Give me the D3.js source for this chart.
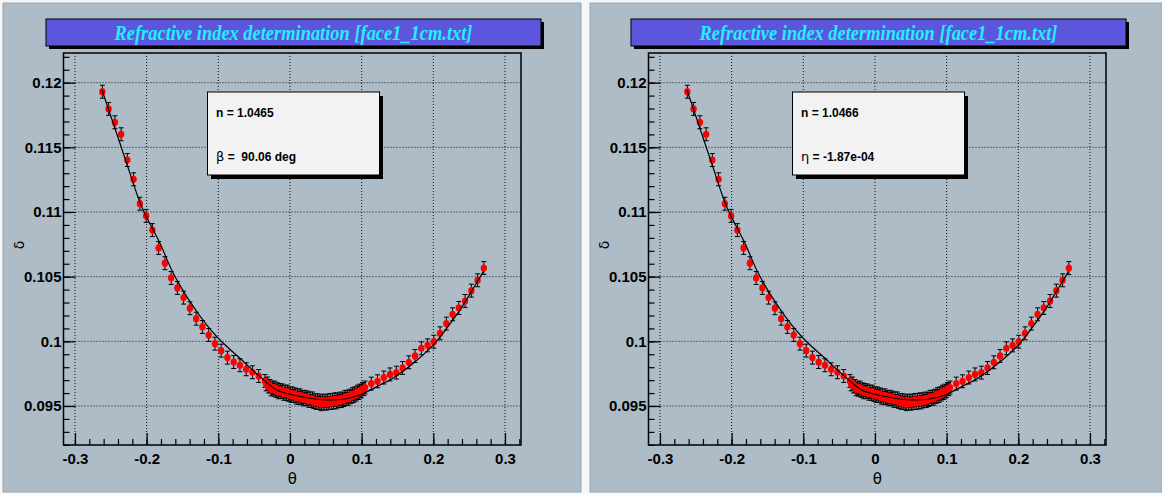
<!DOCTYPE html>
<html><head><meta charset="utf-8">
<script src="https://cdn.jsdelivr.net/npm/d3@7"></script>
<style>body{margin:0;background:#f5f7f9;overflow:hidden}</style>
</head><body><svg id="c" width="1162" height="494"></svg>
<script>
// ---------------- data ----------------
const titleText = "Refractive index determination [face1_1cm.txt]";
const xTitle = "θ", yTitle = "δ";
const xTicks = [-0.3, -0.2, -0.1, 0, 0.1, 0.2, 0.3];
const xTickLabels = ["-0.3", "-0.2", "-0.1", "0", "0.1", "0.2", "0.3"];
const yTicks = [0.095, 0.1, 0.105, 0.11, 0.115, 0.12];
const yTickLabels = ["0.095", "0.1", "0.105", "0.11", "0.115", "0.12"];

// measured points (theta in rad, delta)
const thetaLeft = [-0.2618,-0.2531,-0.2443,-0.2356,-0.2269,-0.2182,-0.2094,-0.2007,-0.1920,-0.1833,-0.1745,-0.1658,-0.1571,-0.1484,-0.1396,-0.1309,-0.1222,-0.1134,-0.1047,-0.0960,-0.0873,-0.0785,-0.0698,-0.0611,-0.0524,-0.0436];
const deltaLeft = [0.11930,0.11797,0.11694,0.11601,0.11402,0.11253,0.11064,0.10970,0.10860,0.10722,0.10604,0.10490,0.10413,0.10338,0.10256,0.10175,0.10111,0.10049,0.09982,0.09928,0.09874,0.09840,0.09815,0.09784,0.09761,0.09732];
const thetaDense = [-0.0349,-0.0332,-0.0314,-0.0297,-0.0279,-0.0262,-0.0244,-0.0227,-0.0209,-0.0192,-0.0175,-0.0157,-0.0140,-0.0122,-0.0105,-0.0087,-0.0070,-0.0052,-0.0035,-0.0017,0.0000,0.0017,0.0035,0.0052,0.0070,0.0087,0.0105,0.0122,0.0140,0.0157,0.0175,0.0192,0.0209,0.0227,0.0244,0.0262,0.0279,0.0297,0.0314,0.0332,0.0349,0.0367,0.0384,0.0401,0.0419,0.0436,0.0454,0.0471,0.0489,0.0506,0.0524,0.0541,0.0559,0.0576,0.0593,0.0611,0.0628,0.0646,0.0663,0.0681,0.0698,0.0716,0.0733,0.0750,0.0768,0.0785,0.0803,0.0820,0.0838,0.0855,0.0873,0.0890,0.0908,0.0925,0.0942,0.0960,0.0977,0.0995,0.1012,0.1030,0.1047];
const deltaDense = [0.09693,0.09667,0.09674,0.09650,0.09655,0.09629,0.09642,0.09626,0.09642,0.09617,0.09629,0.09606,0.09624,0.09609,0.09620,0.09595,0.09611,0.09594,0.09611,0.09586,0.09597,0.09578,0.09597,0.09578,0.09590,0.09565,0.09582,0.09563,0.09582,0.09560,0.09570,0.09551,0.09571,0.09553,0.09565,0.09540,0.09558,0.09539,0.09558,0.09531,0.09544,0.09524,0.09545,0.09524,0.09535,0.09514,0.09542,0.09521,0.09537,0.09518,0.09542,0.09525,0.09547,0.09523,0.09545,0.09528,0.09552,0.09528,0.09550,0.09537,0.09557,0.09538,0.09557,0.09546,0.09571,0.09555,0.09572,0.09557,0.09580,0.09571,0.09592,0.09577,0.09598,0.09588,0.09611,0.09600,0.09619,0.09614,0.09631,0.09630,0.09643];
const thetaRight = [0.1134,0.1222,0.1309,0.1396,0.1484,0.1571,0.1658,0.1745,0.1833,0.1920,0.2007,0.2094,0.2182,0.2269,0.2356,0.2443,0.2531,0.2618,0.2705];
const deltaRight = [0.09673,0.09691,0.09720,0.09744,0.09758,0.09794,0.09838,0.09887,0.09946,0.09969,0.09997,0.10062,0.10137,0.10209,0.10258,0.10312,0.10392,0.10472,0.10567];
const deltaError = 0.0005;

// fitted curve
const fitTheta = [-0.2623,-0.2466,-0.2279,-0.2069,-0.1814,-0.1628,-0.1395,-0.1163,-0.0977,-0.0698,-0.0419,-0.0186,0.0046,0.0279,0.0512,0.0744,0.0977,0.1256,0.1395,0.1720,0.2000,0.2186,0.2372,0.2558,0.2698];
const fitDelta = [0.11943,0.11686,0.11377,0.11041,0.10758,0.10526,0.10307,0.10127,0.10010,0.09869,0.09727,0.09624,0.09585,0.09560,0.09547,0.09552,0.09585,0.09663,0.09701,0.09830,0.09972,0.10101,0.10243,0.10410,0.10539];

const statsLeft = ["n = 1.0465", "β", " =  90.06 deg"];
const statsRight = ["n = 1.0466", "η", " = -1.87e-04"];

// ---------------- drawing ----------------
const svg = d3.select("#c");
const allTheta = thetaLeft.concat(thetaDense, thetaRight);
const allDelta = deltaLeft.concat(deltaDense, deltaRight);
const pts = allTheta.map((t, i) => ({t, d: allDelta[i]}));
const fit = fitTheta.map((t, i) => ({t, d: fitDelta[i]}));

const F = {l: 63.5, r: 521, t: 53, b: 445};
const x = d3.scaleLinear().domain([-0.3160, -0.3160 + (F.r - F.l) / 716.7]).range([F.l, F.r]);
const y = d3.scaleLinear().domain([0.091984, 0.091984 + (F.b - F.t) / 12933]).range([F.b, F.t]);
const labelFont = "'Liberation Sans', Arial, sans-serif";

const panels = [
  {ox: 0, padX: 3, padW: 578, stats: statsLeft},
  {ox: 585, padX: 590, padW: 572, stats: statsRight}
];

panels.forEach(p => {
  svg.append("rect").attr("x", p.padX).attr("y", 3).attr("width", p.padW).attr("height", 489)
    .attr("fill", "#adbcc6").attr("stroke", "#98a6b0").attr("stroke-width", 1);
  const g = svg.append("g").attr("transform", `translate(${p.ox},0)`);

  // grid
  const [x0, x1] = x.domain(), [y0, y1] = y.domain();
  g.append("g").selectAll("line").data(xTicks).join("line")
    .attr("x1", d => x(d)).attr("x2", d => x(d)).attr("y1", F.t).attr("y2", F.b)
    .attr("stroke", "#111").attr("stroke-width", 1).attr("stroke-dasharray", "1,2");
  g.append("g").selectAll("line").data(yTicks).join("line")
    .attr("y1", d => y(d)).attr("y2", d => y(d)).attr("x1", F.l).attr("x2", F.r)
    .attr("stroke", "#111").attr("stroke-width", 1).attr("stroke-dasharray", "1,2");

  // axes with D3 (ticks inside)
  const xMinor = d3.range(-0.30, 0.33, 0.02).filter(v => v >= x0 && v <= x1);
  const yMinor = d3.range(0.092, 0.1225, 0.001).filter(v => v >= y0 && v <= y1);
  const xAxisMinor = d3.axisBottom(x).tickValues(xMinor).tickSize(-6).tickFormat("");
  const xAxisMajor = d3.axisBottom(x).tickValues(xTicks).tickSize(-12).tickPadding(20)
    .tickFormat((d, i) => xTickLabels[i]);
  const yAxisMinor = d3.axisLeft(y).tickValues(yMinor).tickSize(-6).tickFormat("");
  const yAxisMajor = d3.axisLeft(y).tickValues(yTicks).tickSize(-12).tickPadding(14)
    .tickFormat((d, i) => yTickLabels[i]);

  [xAxisMinor, xAxisMajor].forEach(ax => {
    const a = g.append("g").attr("transform", `translate(0,${F.b})`).call(ax);
    a.select(".domain").remove();
    a.selectAll("line").attr("stroke", "#000").attr("stroke-width", 1.2);
    a.selectAll("text").attr("font-family", labelFont).attr("font-weight", "bold")
      .attr("font-size", 15).attr("fill", "#000").attr("dy", "0.71em").attr("y", 8);
  });
  [yAxisMinor, yAxisMajor].forEach(ax => {
    const a = g.append("g").attr("transform", `translate(${F.l},0)`).call(ax);
    a.select(".domain").remove();
    a.selectAll("line").attr("stroke", "#000").attr("stroke-width", 1.2);
    a.selectAll("text").attr("font-family", labelFont).attr("font-weight", "bold")
      .attr("font-size", 15).attr("fill", "#000").attr("x", -2);
  });

  // frame
  g.append("rect").attr("x", F.l).attr("y", F.t).attr("width", F.r - F.l).attr("height", F.b - F.t)
    .attr("fill", "none").attr("stroke", "#000").attr("stroke-width", 1.5);

  // axis titles
  g.append("text").attr("x", (F.l + F.r) / 2).attr("y", 484).attr("text-anchor", "middle")
    .attr("font-family", "'DejaVu Sans', sans-serif").attr("font-size", 15).text(xTitle);
  g.append("text").attr("transform", `translate(24,${(F.t + F.b) / 2 - 4}) rotate(-90)`)
    .attr("text-anchor", "middle").attr("font-family", "'DejaVu Sans', sans-serif")
    .attr("font-size", 14).text(yTitle);

  // error bars
  const eb = g.append("g").attr("stroke", "#000").attr("stroke-width", 1);
  eb.selectAll("line.v").data(pts).join("line").attr("class", "v")
    .attr("x1", d => x(d.t)).attr("x2", d => x(d.t))
    .attr("y1", d => y(d.d - deltaError)).attr("y2", d => y(d.d + deltaError));
  eb.selectAll("line.ct").data(pts).join("line").attr("class", "ct")
    .attr("x1", d => x(d.t) - 2.5).attr("x2", d => x(d.t) + 2.5)
    .attr("y1", d => y(d.d + deltaError)).attr("y2", d => y(d.d + deltaError));
  eb.selectAll("line.cb").data(pts).join("line").attr("class", "cb")
    .attr("x1", d => x(d.t) - 2.5).attr("x2", d => x(d.t) + 2.5)
    .attr("y1", d => y(d.d - deltaError)).attr("y2", d => y(d.d - deltaError));

  // markers
  g.append("g").selectAll("ellipse").data(pts).join("ellipse")
    .attr("cx", d => x(d.t)).attr("cy", d => y(d.d)).attr("rx", 3.2).attr("ry", 3.6)
    .attr("fill", "#ff0000");

  // fit curve (drawn on top, as in the reference)
  g.append("path").datum(fit)
    .attr("d", d3.line().x(d => x(d.t)).y(d => y(d.d)).curve(d3.curveCatmullRom.alpha(0.5)))
    .attr("fill", "none").attr("stroke", "#000").attr("stroke-width", 1.2);

  // title box
  g.append("rect").attr("x", 49).attr("y", 22).attr("width", 495).attr("height", 27).attr("fill", "#000");
  g.append("rect").attr("x", 46).attr("y", 19).attr("width", 495).attr("height", 27)
    .attr("fill", "#5b56dc").attr("stroke", "#000").attr("stroke-width", 1);
  g.append("text").attr("x", 293.5).attr("y", 40).attr("text-anchor", "middle")
    .attr("font-family", "'Liberation Serif', 'Times New Roman', serif")
    .attr("font-style", "italic").attr("font-weight", "bold").attr("font-size", 21)
    .attr("textLength", 358).attr("lengthAdjust", "spacingAndGlyphs")
    .attr("fill", "#22f0ff").text(titleText);

  // stats box
  g.append("rect").attr("x", 211).attr("y", 96).attr("width", 172).attr("height", 83).attr("fill", "#000");
  g.append("rect").attr("x", 207.5).attr("y", 92).attr("width", 172).attr("height", 83)
    .attr("fill", "#f2f2f2").attr("stroke", "#000").attr("stroke-width", 1);
  g.append("text").attr("x", 216).attr("y", 117).attr("font-family", labelFont)
    .attr("font-weight", "bold").attr("font-size", 12).text(p.stats[0]);
  const t2 = g.append("text").attr("x", 216).attr("y", 161).attr("font-family", labelFont).attr("font-size", 12);
  t2.append("tspan").attr("font-family", "'DejaVu Sans', sans-serif").attr("font-size", 13).text(p.stats[1]);
  t2.append("tspan").attr("font-weight", "bold").attr("xml:space", "preserve").style("white-space", "pre").text(p.stats[2]);
});
</script>
</body></html>
